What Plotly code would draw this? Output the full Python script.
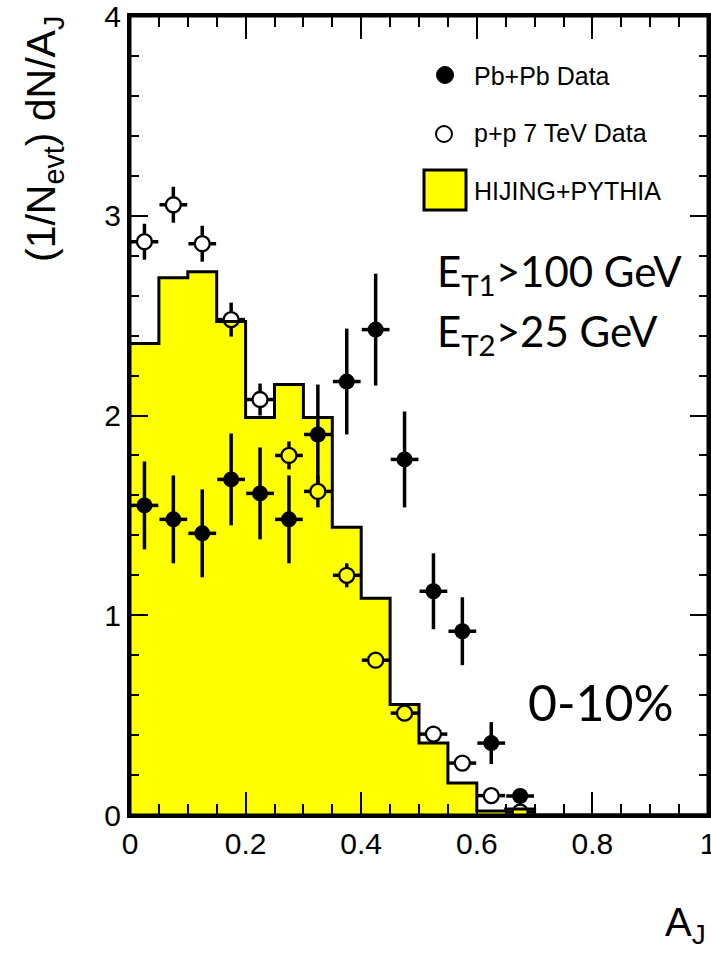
import plotly.graph_objects as go

# ---------------- data ----------------
aj_centers = [0.025, 0.075, 0.125, 0.175, 0.225, 0.275, 0.325, 0.375, 0.425, 0.475,
              0.525, 0.575, 0.625, 0.675, 0.725, 0.775, 0.825, 0.875, 0.925, 0.975]
bin_half = 0.025

hijing = [2.36, 2.69, 2.72, 2.47, 1.99, 2.155, 1.99, 1.44, 1.085, 0.553,
          0.36, 0.16, 0.02, 0.03, 0.0, 0.0, 0.0, 0.0, 0.0, 0.0]

pts_x = aj_centers[:14]
pbpb_y = [1.55, 1.48, 1.41, 1.68, 1.61, 1.48, 1.905, 2.17, 2.43, 1.78, 1.12, 0.92, 0.36, 0.095]
pbpb_err = [0.22, 0.22, 0.22, 0.23, 0.23, 0.22, 0.25, 0.265, 0.28, 0.24, 0.19, 0.17, 0.105, 0.03]

pp_y = [2.87, 3.055, 2.86, 2.48, 2.08, 1.80, 1.62, 1.20, 0.775, 0.51, 0.405, 0.26, 0.097, 0.015]
pp_err = [0.09, 0.09, 0.09, 0.085, 0.08, 0.07, 0.08, 0.06, 0.03, 0.03, 0.025, 0.02, 0.02, 0.02]

x_range = [0, 1]
y_range = [0, 4]
x_major_step, x_minor_step = 0.2, 0.05
y_major_step, y_minor_step = 1, 0.2

legend_labels = ["Pb+Pb Data", "p+p 7 TeV Data", "HIJING+PYTHIA"]

# ---------------- geometry ----------------
W, H = 711, 953
L, R, T, B = 130, 708, 16, 815  # plot area in pixels
MARKER_D = 16                    # marker diameter in px
XERR_HALF = 0.024                # horizontal bar half-length (data units)


def px(x):
    return (x - L) / (R - L)


def py(y):
    return (B - y) / (B - T)


# marker radius converted to data units (for bars that stop at the open circle's edge)
rx = (MARKER_D / 2) / (R - L) * (x_range[1] - x_range[0])
ry = (MARKER_D / 2) / (B - T) * (y_range[1] - y_range[0])

hist_edges = [c - bin_half for c in aj_centers] + [aj_centers[-1] + bin_half]
hist_vals = hijing + [hijing[-1]]

fig = go.Figure()

fig.add_trace(go.Scatter(
    x=hist_edges, y=hist_vals, mode="lines", line=dict(shape="hv", color="black", width=3),
    fill="tozeroy", fillcolor="#ffff00", showlegend=False, hoverinfo="skip"))

# p+p error bars drawn as segments outside the hollow marker
seg_x, seg_y = [], []
for x, y, e in zip(pts_x, pp_y, pp_err):
    if e > ry:
        seg_x += [x, x, None, x, x, None]
        seg_y += [y + ry, y + e, None, y - ry, max(y - e, 0), None]
    seg_x += [x - XERR_HALF, x - rx, None, x + rx, x + XERR_HALF, None]
    seg_y += [y, y, None, y, y, None]
fig.add_trace(go.Scatter(x=seg_x, y=seg_y, mode="lines", line=dict(color="black", width=3.5),
                         showlegend=False, hoverinfo="skip"))
fig.add_trace(go.Scatter(
    x=pts_x, y=pp_y, mode="markers",
    marker=dict(symbol="circle-open", size=MARKER_D - 1, color="black", line=dict(width=2.3, color="black")),
    showlegend=False))

err_style = dict(type="data", thickness=3.5, width=0, color="black")
fig.add_trace(go.Scatter(
    x=pts_x, y=pbpb_y, mode="markers",
    marker=dict(symbol="circle", size=MARKER_D, color="black"),
    error_y=dict(array=pbpb_err, **err_style),
    error_x=dict(array=[XERR_HALF] * len(pts_x), **err_style),
    showlegend=False))

FONT_H = "Liberation Sans, Arial, Helvetica, sans-serif"
FONT_G = "Lato, Open Sans, sans-serif"

axis_common = dict(showgrid=False, zeroline=False, showline=True, linecolor="black", linewidth=3,
                   mirror="allticks", ticks="inside", tickcolor="black", tickwidth=2,
                   tickmode="linear", tick0=0, ticklabeloverflow="allow", automargin=False,
                   layer="above traces",
                   tickfont=dict(family=FONT_H, size=30, color="black"))

fig.update_xaxes(range=x_range, dtick=x_major_step, ticklen=23,
                 minor=dict(dtick=x_minor_step, ticklen=11, tickwidth=2, ticks="inside", tickcolor="black"),
                 **axis_common)
fig.update_yaxes(range=y_range, dtick=y_major_step, ticklen=18,
                 minor=dict(dtick=y_minor_step, ticklen=9, tickwidth=2, ticks="inside", tickcolor="black"),
                 **axis_common)

annotations = []
shapes = []

# plot frame
shapes.append(dict(type="rect", xref="paper", yref="paper", x0=0, x1=1, y0=0, y1=1,
                   line=dict(color="black", width=3), fillcolor="rgba(0,0,0,0)", layer="above"))

# axis titles
annotations.append(dict(text="(1/N<sub>evt</sub>) dN/A<sub>J</sub>", textangle=-90,
                        xref="paper", yref="paper", x=px(44), y=py(14), xanchor="center", yanchor="top",
                        showarrow=False, font=dict(family=FONT_H, size=41, color="black")))
annotations.append(dict(text="A<sub>J</sub>", xref="paper", yref="paper", x=px(708), y=py(925),
                        xanchor="right", yanchor="middle", showarrow=False,
                        font=dict(family=FONT_H, size=40, color="black")))

# legend (manual)
shapes.append(dict(type="circle", xref="paper", yref="paper", x0=px(436.5), x1=px(453.5),
                   y0=py(83.5), y1=py(66.5), fillcolor="black", line=dict(color="black", width=1)))
shapes.append(dict(type="circle", xref="paper", yref="paper", x0=px(436), x1=px(452),
                   y0=py(142), y1=py(126), fillcolor="white", line=dict(color="black", width=2)))
shapes.append(dict(type="rect", xref="paper", yref="paper", x0=px(424), x1=px(466),
                   y0=py(210), y1=py(170), fillcolor="#ffff00", line=dict(color="black", width=3)))
for lab, yy in zip(legend_labels, [76, 133, 191]):
    annotations.append(dict(text=lab, xref="paper", yref="paper", x=px(472), y=py(yy),
                            xanchor="left", yanchor="middle", showarrow=False,
                            font=dict(family=FONT_H, size=25, color="black")))

# physics labels
annotations.append(dict(text="E<sub>T1</sub>>100 GeV", xref="paper", yref="paper", x=px(435), y=py(274),
                        xanchor="left", yanchor="middle", showarrow=False,
                        font=dict(family=FONT_G, size=42, color="black")))
annotations.append(dict(text="E<sub>T2</sub>>25 GeV", xref="paper", yref="paper", x=px(435), y=py(334),
                        xanchor="left", yanchor="middle", showarrow=False,
                        font=dict(family=FONT_G, size=42, color="black")))
annotations.append(dict(text="0-10%", xref="paper", yref="paper", x=px(676), y=py(702),
                        xanchor="right", yanchor="middle", showarrow=False,
                        font=dict(family=FONT_G, size=50, color="black")))

fig.update_layout(width=W, height=H, margin=dict(l=L, r=W - R, t=T, b=H - B),
                  paper_bgcolor="white", plot_bgcolor="white",
                  annotations=annotations, shapes=shapes, showlegend=False)

fig.write_html("out.html")
